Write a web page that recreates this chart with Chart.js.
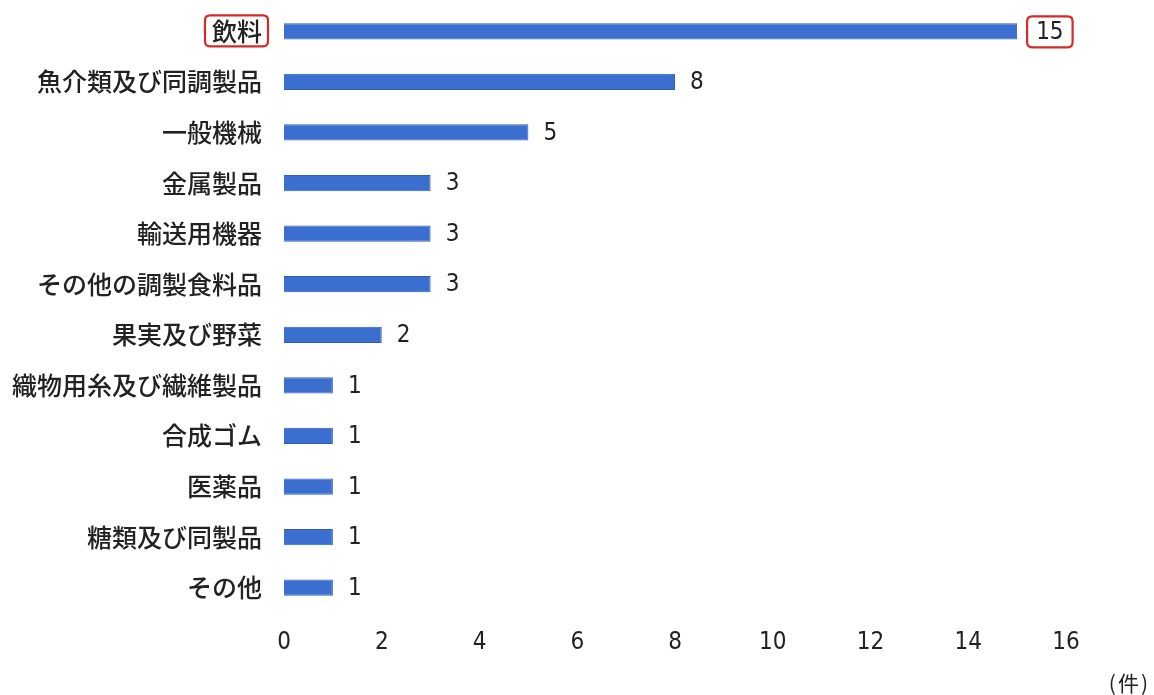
<!DOCTYPE html>
<html lang="ja">
<head>
<meta charset="utf-8">
<script src="https://cdn.jsdelivr.net/npm/chart.js@4/dist/chart.umd.min.js"></script>
<style>
  html, body { margin: 0; padding: 0; background: #fff; }
  #wrap { width: 1154px; height: 695px; position: relative; }
</style>
</head>
<body>
<div id="wrap"><canvas id="c"></canvas></div>
<script>
const categories = [
  '飲料', '魚介類及び同調製品', '一般機械', '金属製品', '輸送用機器',
  'その他の調製食料品', '果実及び野菜', '織物用糸及び繊維製品', '合成ゴム',
  '医薬品', '糖類及び同製品', 'その他'
];
const counts = [15, 8, 5, 3, 3, 3, 2, 1, 1, 1, 1, 1];
const highlighted = ['飲料'];
const xTicks = [0, 2, 4, 6, 8, 10, 12, 14, 16];
const unitLabel = '(件)';

const jpFont = '"Noto Sans CJK JP", "Noto Sans", sans-serif';
const numFont = '"Liberation Sans Narrow", "DejaVu Sans Condensed", sans-serif';
const boxRed = '#d42a2a';

function roundRect(ctx, x, y, w, h, r) {
  ctx.beginPath();
  ctx.moveTo(x + r, y);
  ctx.lineTo(x + w - r, y);
  ctx.quadraticCurveTo(x + w, y, x + w, y + r);
  ctx.lineTo(x + w, y + h - r);
  ctx.quadraticCurveTo(x + w, y + h, x + w - r, y + h);
  ctx.lineTo(x + r, y + h);
  ctx.quadraticCurveTo(x, y + h, x, y + h - r);
  ctx.lineTo(x, y + r);
  ctx.quadraticCurveTo(x, y, x + r, y);
  ctx.closePath();
}

// value labels at the bar ends, with a red frame for highlighted rows
const valueLabels = {
  id: 'valueLabels',
  afterDatasetsDraw(chart) {
    const ctx = chart.ctx;
    const meta = chart.getDatasetMeta(0);
    ctx.save();
    ctx.font = '24px ' + numFont;
    ctx.fillStyle = '#222';
    ctx.textBaseline = 'middle';
    ctx.textAlign = 'left';
    meta.data.forEach((bar, i) => {
      const txt = String(counts[i]);
      const hl = highlighted.includes(categories[i]);
      const x = bar.x + (hl ? 19 : 15);
      const y = bar.y + 1;
      ctx.fillText(txt, x, y);
      if (hl) {
        const w = ctx.measureText(txt).width;
        ctx.strokeStyle = boxRed;
        ctx.lineWidth = 2.2;
        roundRect(ctx, x - 9, y - 16, w + 18, 31, 5);
        ctx.stroke();
      }
    });
    ctx.restore();
  }
};

// red frame around highlighted category names and the unit label
const extras = {
  id: 'extras',
  afterDraw(chart) {
    const ctx = chart.ctx;
    const yScale = chart.scales.y;
    ctx.save();
    ctx.font = '500 25px ' + jpFont;
    categories.forEach((c, i) => {
      if (!highlighted.includes(c)) return;
      const y = yScale.getPixelForValue(i);
      const right = chart.chartArea.left - 22;
      const w = ctx.measureText(c).width;
      ctx.strokeStyle = boxRed;
      ctx.lineWidth = 2.2;
      roundRect(ctx, right - w - 7, y - 16, w + 13, 31, 5);
      ctx.stroke();
    });
    ctx.fillStyle = '#222';
    ctx.textAlign = 'right';
    ctx.textBaseline = 'middle';
    ctx.font = '21px ' + jpFont;
    ctx.letterSpacing = '2px';
    ctx.fillText(unitLabel, 1150, 683);
    ctx.restore();
  }
};

new Chart(document.getElementById('c'), {
  type: 'bar',
  data: {
    labels: categories,
    datasets: [{
      data: counts,
      backgroundColor: '#3a6fd0',
      borderColor: '#2f5fb8',
      borderWidth: 1,
      barPercentage: 0.64,
      categoryPercentage: 0.5
    }]
  },
  options: {
    indexAxis: 'y',
    responsive: true,
    maintainAspectRatio: false,
    animation: false,
    layout: { padding: { top: 6, right: 88, bottom: 0, left: 0 } },
    plugins: {
      legend: { display: false },
      tooltip: { enabled: false }
    },
    scales: {
      x: {
        min: 0,
        max: 16,
        afterBuildTicks(scale) {
          scale.ticks = xTicks.map(v => ({ value: v }));
        },
        afterFit(scale) {
          scale.height = 82;
          scale.paddingLeft = 0;
          scale.paddingRight = 0;
        },
        grid: { display: false, drawTicks: false },
        border: { display: false },
        ticks: {
          padding: 15,
          color: '#222',
          font: { family: numFont, size: 24 }
        }
      },
      y: {
        afterFit(scale) {
          scale.width = 284;
          scale.paddingTop = 0;
          scale.paddingBottom = 0;
        },
        grid: { display: false, drawTicks: false },
        border: { display: false },
        ticks: {
          padding: 22,
          color: '#222',
          font: { family: jpFont, size: 25, weight: '500' }
        }
      }
    }
  },
  plugins: [valueLabels, extras]
});
</script>
</body>
</html>
